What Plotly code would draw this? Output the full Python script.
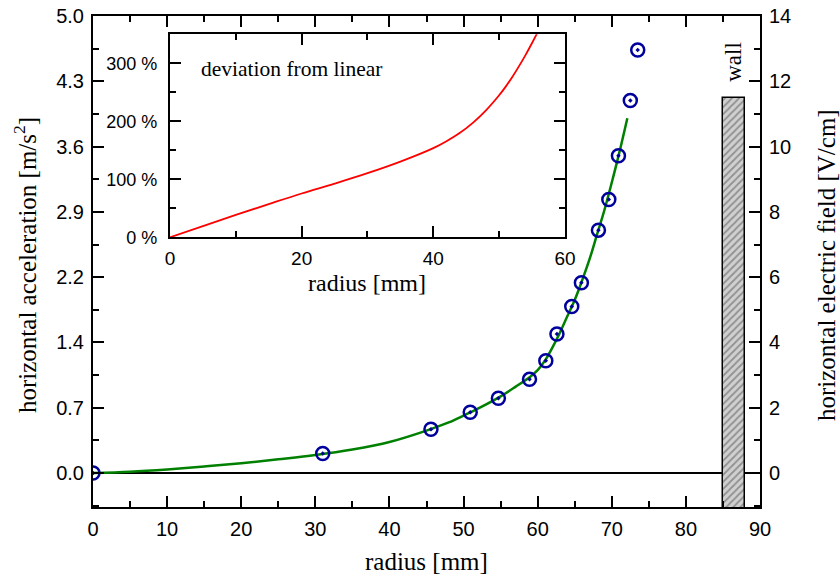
import plotly.graph_objects as go

# measured points: radius [mm] vs horizontal electric field [V/cm]
r_pts = [0.0, 31.0, 45.6, 50.9, 54.7, 58.9, 61.1, 62.6, 64.6, 65.9, 68.2, 69.6, 70.9, 72.5, 73.5]
e_pts = [0.0, 0.60, 1.34, 1.86, 2.29, 2.87, 3.44, 4.26, 5.10, 5.83, 7.44, 8.38, 9.72, 11.41, 12.96]

# fitted curve
r_fit = [0, 5, 10, 15, 20, 25, 30, 35, 40, 45, 48, 50, 52, 55, 57, 59, 60, 61, 62, 63, 64, 65, 66, 67, 68, 69, 70, 71, 72.1]
e_fit = [0, 0.04, 0.11, 0.20, 0.30, 0.42, 0.55, 0.72, 0.95, 1.30, 1.55, 1.76, 1.98, 2.35, 2.64, 2.95, 3.15, 3.45, 3.85, 4.30, 4.80, 5.30, 5.90, 6.55, 7.30, 8.05, 8.90, 9.80, 10.87]

# inset: deviation from linear [%]
r_dev = [0, 5, 10, 15, 20, 25, 30, 35, 40, 42, 44, 46, 48, 50, 51, 52, 53, 54, 55, 56]
dev = [0, 19.3, 38.5, 57.2, 75.5, 92.5, 110.5, 130.5, 153.7, 165.7, 179.7, 197.3, 218.9, 244.9, 259.8, 276.5, 294.7, 314.2, 335, 357]

# tick labels
left_vals = [0, 2, 4, 6, 8, 10, 12, 14]
left_text = ["0.0", "0.7", "1.4", "2.2", "2.9", "3.6", "4.3", "5.0"]
right_vals = [0, 2, 4, 6, 8, 10, 12, 14]

# wall
wall_x = [86.5]
wall_w = [3.0]
wall_top = 11.5
y_bottom = -1.04

sans = "Liberation Sans, Arial, sans-serif"
serif = "Liberation Serif, Times New Roman, serif"

fig = go.Figure()

fig.add_trace(go.Bar(
    x=wall_x, y=[wall_top - y_bottom + 0.1], base=[y_bottom - 0.1], width=wall_w,
    marker=dict(color="#c8c8c8", line=dict(color="black", width=1.5),
                pattern=dict(shape="/", fgcolor="#505050", bgcolor="#d0d0d0", size=5, solidity=0.35)),
    xaxis="x", yaxis="y", showlegend=False, hoverinfo="skip"))

fig.add_trace(go.Scatter(x=r_fit, y=e_fit, mode="lines", line_shape="spline",
                         line=dict(color="#008000", width=2.5), xaxis="x", yaxis="y", showlegend=False))
fig.add_trace(go.Scatter(x=r_pts, y=e_pts, mode="markers",
                         marker=dict(symbol="circle-open-dot", size=13, color="#00009c",
                                     line=dict(width=2.5, color="#00009c")),
                         xaxis="x", yaxis="y", showlegend=False))
fig.add_trace(go.Scatter(x=r_dev, y=dev, mode="lines", line_shape="spline",
                         line=dict(color="#ff0000", width=1.8), xaxis="x2", yaxis="y3", showlegend=False))
# invisible trace so the right axis is drawn
fig.add_trace(go.Scatter(x=[0], y=[0], mode="markers", marker=dict(opacity=0), xaxis="x", yaxis="y2",
                         showlegend=False, hoverinfo="skip"))

axis_common = dict(showline=True, linecolor="black", linewidth=2, ticks="inside",
                   tickcolor="black", tickwidth=1.5, showgrid=False, zeroline=False, automargin=False,
                   ticklabeloverflow="allow")
minor_common = dict(ticks="inside", tickcolor="black", tickwidth=1.5, ticklen=6)

fig.update_layout(
    width=840, height=576,
    margin=dict(l=93, r=80, t=16, b=69, autoexpand=False),
    paper_bgcolor="white", plot_bgcolor="white",
    font=dict(family=sans, color="black", size=20),
    bargap=0,
    xaxis=dict(**axis_common, range=[0, 90], dtick=10, tick0=0, ticklen=11, mirror="ticks",
               minor=dict(dtick=5, **minor_common), ticklabelstandoff=3,
               tickfont=dict(family=sans, size=20), anchor="y", domain=[0, 1]),
    yaxis=dict(**axis_common, range=[y_bottom, 14], tickmode="array", tickvals=left_vals,
               ticktext=left_text, ticklen=11, ticklabelstandoff=3,
               minor=dict(dtick=1, tick0=0, **minor_common),
               tickfont=dict(family=sans, size=20), anchor="x", domain=[0, 1]),
    yaxis2=dict(**axis_common, range=[y_bottom, 14], tickmode="array", tickvals=right_vals,
                ticklen=11, side="right", overlaying="y", anchor="x", ticklabelstandoff=3,
                minor=dict(dtick=1, tick0=0, **minor_common),
                tickfont=dict(family=sans, size=20)),
    xaxis2=dict(**axis_common, range=[0, 60], dtick=20, ticklen=11, mirror="ticks",
                minor=dict(dtick=10, **minor_common), ticklabelstandoff=3,
                tickfont=dict(family=sans, size=19), anchor="y3", domain=[0.1154, 0.7076]),
    yaxis3=dict(**axis_common, range=[0, 350], dtick=100, ticklen=11, mirror="ticks", ticksuffix=" %",
                minor=dict(dtick=50, **minor_common), ticklabelstandoff=7,
                tickfont=dict(family=sans, size=18), anchor="x2", domain=[0.5493, 0.9627]),
)

# zero line
fig.add_shape(type="line", xref="x", yref="y", x0=0, x1=90, y0=0, y1=0,
              line=dict(color="black", width=2), layer="below")

ann = [
    dict(text="radius [mm]", x=0.5, y=(507 - 561) / 491, xref="paper", yref="paper", showarrow=False,
         font=dict(family=serif, size=25), xanchor="center", yanchor="middle"),
    dict(text="horizontal acceleration [m/s<sup>2</sup>]", x=(25 - 93) / 667, y=(507 - 265) / 491,
         xref="paper", yref="paper",
         showarrow=False, textangle=-90, font=dict(family=serif, size=25), xanchor="center", yanchor="middle"),
    dict(text="horizontal electric field [V/cm]", x=(826 - 93) / 667, y=(507 - 265) / 491,
         xref="paper", yref="paper",
         showarrow=False, textangle=-90, font=dict(family=serif, size=25), xanchor="center", yanchor="middle"),
    dict(text="wall", x=86.5, y=12.6, xref="x", yref="y", showarrow=False, textangle=-90,
         font=dict(family=serif, size=23), xanchor="center", yanchor="middle"),
    dict(text="radius [mm]", x=30, y=(507 - 283) / 491, xref="x2", yref="paper", showarrow=False,
         font=dict(family=serif, size=24), xanchor="center", yanchor="middle"),
    dict(text="deviation from linear", x=4.45, y=290, xref="x2", yref="y3", showarrow=False,
         font=dict(family=serif, size=21.5), xanchor="left", yanchor="middle"),
]
fig.update_layout(annotations=ann)

fig.write_html("out.html", config={"displayModeBar": False},
               post_script="document.body.style.margin='0px';")
